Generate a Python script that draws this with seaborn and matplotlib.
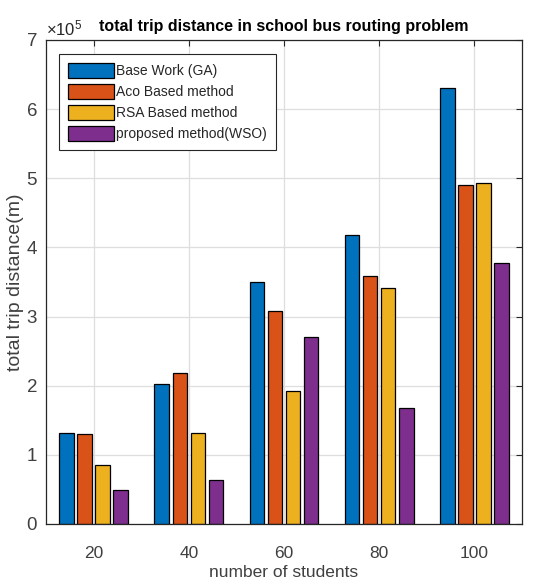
import matplotlib
matplotlib.use("Agg")
import matplotlib.pyplot as plt
import seaborn as sns
import pandas as pd
from matplotlib.patches import Patch
from matplotlib.ticker import ScalarFormatter, MultipleLocator

categories = ["20", "40", "60", "80", "100"]
series_names = ["Base Work (GA)", "Aco Based method", "RSA Based method", "proposed method(WSO)"]
base_ga = [132000, 203000, 350000, 418000, 631000]
aco = [129500, 218000, 308000, 358000, 491000]
rsa = [84700, 131000, 192600, 342000, 493000]
wso = [49000, 63600, 270000, 168000, 378000]
colors = ["#0072BD", "#D95319", "#EDB120", "#7E2F8E"]

rows = []
for name, vals in zip(series_names, [base_ga, aco, rsa, wso]):
    for c, v in zip(categories, vals):
        rows.append({"students": c, "method": name, "distance": v})
df = pd.DataFrame(rows)

fam = "Liberation Sans"
sns.set_theme(style="white")
plt.rcParams["font.family"] = [fam, "DejaVu Sans"]
plt.rcParams["mathtext.fontset"] = "custom"
plt.rcParams["mathtext.rm"] = fam

fig = plt.figure(figsize=(5.37, 5.81), dpi=100)
ax = fig.add_axes([46/537, 57/581, 476/537, 484/581])

sns.barplot(data=df, x="students", y="distance", hue="method", order=categories,
            hue_order=series_names, palette=colors, width=0.76, gap=0.2,
            edgecolor="black", linewidth=0.9, saturation=1, ax=ax, legend=False)

ax.set_xlim(-0.5, 4.5)
ax.set_ylim(0, 7e5)
ax.yaxis.set_major_locator(MultipleLocator(1e5))
fmt = ScalarFormatter(useMathText=True)
fmt.set_powerlimits((0, 0))
ax.yaxis.set_major_formatter(fmt)
ax.yaxis.get_offset_text().set_fontsize(12)
ax.yaxis.get_offset_text().set_color("#404040")

ax.set_axisbelow(True)
ax.grid(True, color="#dedede", linewidth=0.9)
for s in ax.spines.values():
    s.set_visible(True)
    s.set_color("#262626")
    s.set_linewidth(0.9)
ax.tick_params(direction="in", top=True, right=True, length=4, width=0.8,
               colors="#262626")
ax.tick_params(axis="x", pad=16, labelsize=12.5)
ax.tick_params(axis="y", pad=6, labelsize=13.5)
for t in ax.get_xticklabels() + ax.get_yticklabels():
    t.set_color("#404040")

ax.set_xlabel("number of students", fontsize=12.5, color="#404040", labelpad=3)
ax.set_ylabel("total trip distance(m)", fontsize=14, color="#404040", labelpad=1)
ax.set_title("total trip distance in school bus routing problem", fontsize=11.5,
             fontweight="bold", color="black", y=1.0186, pad=0)

handles = [Patch(facecolor=c, edgecolor="black", linewidth=0.9) for c in colors]
leg = ax.legend(handles, series_names, loc="upper left", bbox_to_anchor=(0.027, 0.971),
                borderaxespad=0, fontsize=10, frameon=True, fancybox=False,
                edgecolor="#262626", framealpha=1, handlelength=3.3, handleheight=1.3,
                labelspacing=0.42, handletextpad=0.2, borderpad=0.65)
leg.get_frame().set_linewidth(0.8)
for t in leg.get_texts():
    t.set_color("#262626")

fig.savefig("out.png", dpi=100)
